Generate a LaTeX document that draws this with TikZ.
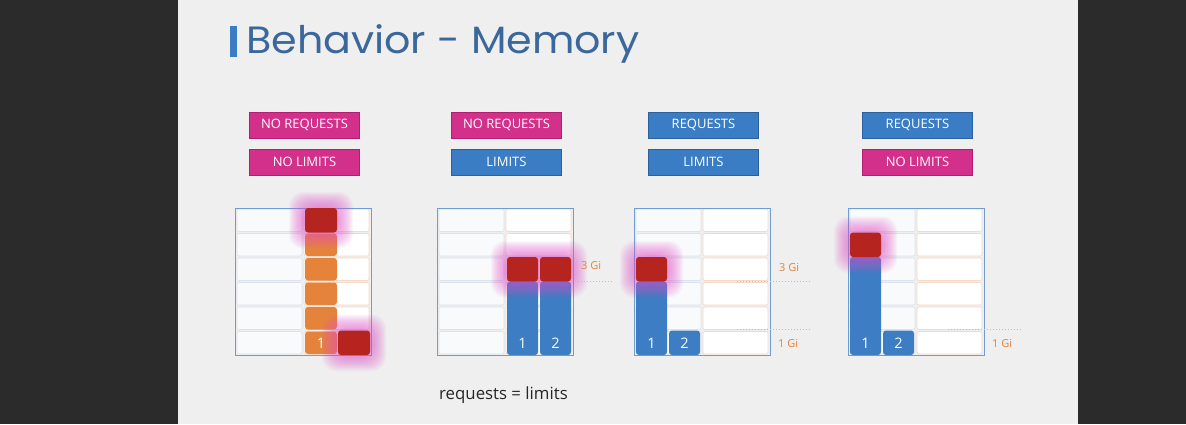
\documentclass[tikz,border=0pt]{standalone}
\usepackage{fontspec}
\setmainfont{Open Sans}
\newfontfamily\titlefont{Poppins}
\definecolor{sidebar}{HTML}{2B2B2C}
\definecolor{slidebg}{HTML}{EFEFEF}
\definecolor{titleblue}{HTML}{3A679C}
\definecolor{barblue}{HTML}{3B7DC4}
\definecolor{tagpink}{HTML}{D2308A}
\definecolor{tagpinkline}{HTML}{B0206E}
\definecolor{tagblue}{HTML}{3B7DC4}
\definecolor{tagblueline}{HTML}{2C609C}
\definecolor{ctorange}{HTML}{E5833B}
\definecolor{ctblue}{HTML}{3C7DC3}
\definecolor{ctred}{HTML}{B5241E}
\definecolor{glowc}{HTML}{E452CC}
\definecolor{frameblue}{HTML}{6E9DD4}
\definecolor{leftfill}{HTML}{F9FAFB}
\definecolor{leftline}{HTML}{DCE3EC}
\definecolor{rightline}{HTML}{F2D9C8}
\definecolor{gilabel}{HTML}{E8803A}
\definecolor{giline}{HTML}{F0B08A}
% one memory grid: left half grey cells, right half white cells, blue frame
\newcommand\memgrid[1]{%
  \foreach \r in {1,...,6}{%
    \pgfmathsetmacro\yt{355-24.5*\r+1}%
    \pgfmathsetmacro\yb{355-24.5*(\r-1)-1}%
    \draw[leftcell] (#1+2,\yt) rectangle (#1+67,\yb);
    \draw[rightcell] (#1+69,\yt) rectangle (#1+134,\yb);
  }%
  \draw[gridframe] (#1,208) rectangle (#1+136,355);
}
% soft pink halo behind a container block
\newcommand\halo[4]{%
  \foreach \d in {1,...,16}{%
    \fill[glowc,opacity=0.05,rounded corners=14pt] (#1-\d,#2-\d) rectangle (#3+\d,#4+\d);
  }%
}
\begin{document}
\begin{tikzpicture}[x=1pt,y=-1pt,
  tag/.style={draw, line width=0.8pt, minimum width=110pt, minimum height=26pt,
    inner sep=0pt, text=white, font=\fontsize{13}{14}\selectfont},
  pinktag/.style={tag, fill=tagpink, draw=tagpinkline},
  bluetag/.style={tag, fill=tagblue, draw=tagblueline},
  leftcell/.style={fill=leftfill, draw=leftline, line width=0.6pt, rounded corners=2pt},
  rightcell/.style={fill=white, draw=rightline, line width=0.6pt, rounded corners=2pt},
  gridframe/.style={draw=frameblue, line width=0.8pt},
  block/.style={rounded corners=3pt},
  num/.style={text=white, font=\fontsize{14.5}{15}\selectfont, inner sep=0pt},
  gi/.style={text=gilabel, font=\fontsize{11}{11}\selectfont, inner sep=0pt, anchor=west},
  giline/.style={draw=giline, line width=0.8pt, dash pattern=on 1pt off 2pt}]

\useasboundingbox (0,0) rectangle (1186,424);
\fill[sidebar] (0,0) rectangle (1186,424);
\fill[slidebg] (178,0) rectangle (1078,424);

% title
\fill[barblue] (230,26) rectangle (237,57);
\node[anchor=base west, inner sep=0pt, text=titleblue, font=\titlefont\fontsize{38}{40}\selectfont] (title) at (246,53) {\scalebox{1.085}[1]{Behavior - Memory}};

% setting tags
\node[pinktag] (t1a) at (304.5,125) {NO REQUESTS};
\node[pinktag] (t1b) at (304.5,162) {NO LIMITS};
\node[pinktag] (t2a) at (506.5,125) {NO REQUESTS};
\node[bluetag] (t2b) at (506.5,162) {LIMITS};
\node[bluetag] (t3a) at (703.5,125) {REQUESTS};
\node[bluetag] (t3b) at (703.5,162) {LIMITS};
\node[bluetag] (t4a) at (917.5,125) {REQUESTS};
\node[pinktag] (t4b) at (917.5,162) {NO LIMITS};

% grids
\memgrid{235}
\memgrid{437}
\memgrid{634}
\memgrid{848}

% panel 1: no requests, no limits
\foreach \r in {1,...,5}{%
  \pgfmathsetmacro\yt{355-24.5*\r+1}%
  \pgfmathsetmacro\yb{355-24.5*(\r-1)-1}%
  \fill[ctorange, block] (305,\yt) rectangle (337,\yb);
}
\halo{305}{208}{337}{232.5}
\halo{338}{330.5}{370}{355}
\fill[ctred, block] (305,208) rectangle (337,232.5);
\fill[ctred, block] (338,330.5) rectangle (370,355);
\node[num] (p1n1) at (321,343) {1};

% panel 2: limits only
\fill[ctblue, block] (507,281.5) rectangle (538,355);
\fill[ctblue, block] (540,281.5) rectangle (571,355);
\halo{507}{257}{571}{281.5}
\fill[ctred, block] (507,257) rectangle (538,281.5);
\fill[ctred, block] (540,257) rectangle (571,281.5);
\node[num] (p2n1) at (522.5,343) {1};
\node[num] (p2n2) at (555.5,343) {2};
\node[gi] (p2g3) at (581,266) {3 Gi};
\coordinate (p2l3a) at (575,281.5);
\coordinate (p2l3b) at (613,281.5);
\draw[giline] (p2l3a) -- (p2l3b);

% panel 3: requests and limits
\fill[ctblue, block] (636,281.5) rectangle (667,355);
\fill[ctblue, block] (669,330.5) rectangle (700,355);
\halo{636}{257}{667}{281.5}
\fill[ctred, block] (636,257) rectangle (667,281.5);
\node[num] (p3n1) at (651.5,343) {1};
\node[num] (p3n2) at (684.5,343) {2};
\node[gi] (p3g3) at (779,267.5) {3 Gi};
\node[gi] (p3g1) at (778,343.5) {1 Gi};
\coordinate (p3l3a) at (737,281.5);
\coordinate (p3l3b) at (810,281.5);
\coordinate (p3l1a) at (737,329.5);
\coordinate (p3l1b) at (810,329.5);
\draw[giline] (p3l3a) -- (p3l3b);
\draw[giline] (p3l1a) -- (p3l1b);

% panel 4: requests only
\fill[ctblue, block] (850,257) rectangle (881,355);
\fill[ctblue, block] (883,330.5) rectangle (914,355);
\halo{850}{232.5}{881}{257}
\fill[ctred, block] (850,232.5) rectangle (881,257);
\node[num] (p4n1) at (865.5,343) {1};
\node[num] (p4n2) at (898.5,343) {2};
\node[gi] (p4g1) at (992,343.5) {1 Gi};
\coordinate (p4l1a) at (948,329.5);
\coordinate (p4l1b) at (1022,329.5);
\draw[giline] (p4l1a) -- (p4l1b);

% caption
\node[anchor=base west, inner sep=0pt, text=black!85, font=\fontsize{16.8}{18}\selectfont] (cap) at (439,399) {requests = limits};
\end{tikzpicture}
\end{document}
